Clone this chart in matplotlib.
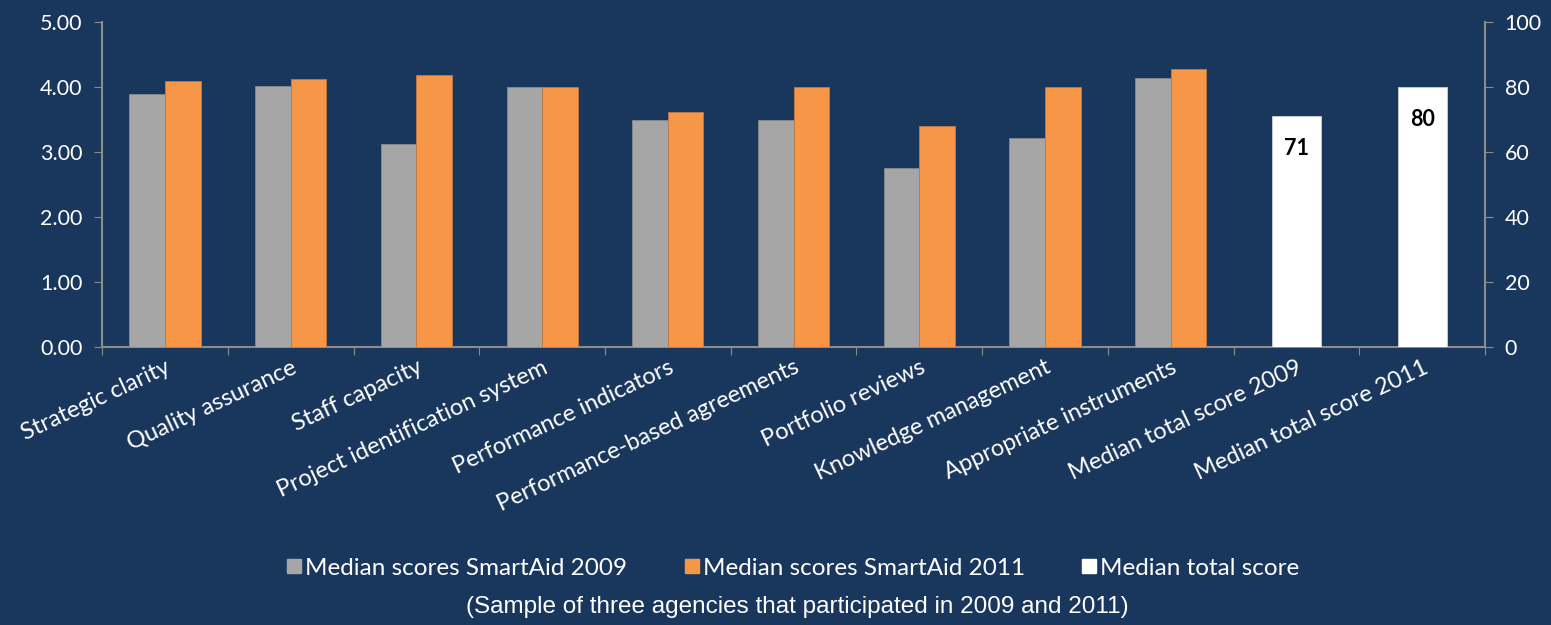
import numpy as np
import matplotlib
matplotlib.use("Agg")
import matplotlib.pyplot as plt
from matplotlib.lines import Line2D

# data
categories = ["Strategic clarity", "Quality assurance", "Staff capacity",
              "Project identification system", "Performance indicators",
              "Performance-based agreements", "Portfolio reviews",
              "Knowledge management", "Appropriate instruments",
              "Median total score 2009", "Median total score 2011"]
scores_2009 = [3.89, 4.01, 3.12, 4.00, 3.49, 3.49, 2.75, 3.22, 4.14]
scores_2011 = [4.10, 4.13, 4.18, 4.00, 3.62, 4.00, 3.40, 4.00, 4.28]
total_scores = [71, 80]

bg = "#19365C"
grey = "#A6A6A6"
orange = "#F79646"
spine_col = "#8C8C8C"
txt = "#FFFFFF"

plt.rcParams["font.family"] = ["Lato", "DejaVu Sans"]

fig = plt.figure(figsize=(15.51, 6.25), dpi=100)
fig.patch.set_facecolor(bg)
ax = fig.add_axes([0.0658, 0.4448, 0.8917, 0.52])
ax.set_facecolor(bg)
ax2 = ax.twinx()

x = np.arange(len(categories))
n = len(scores_2009)
w = 0.283
ax.bar(x[:n] - w / 2, scores_2009, w, color=grey, edgecolor="#8A8A8A", linewidth=0.6, zorder=3)
ax.bar(x[:n] + w / 2, scores_2011, w, color=orange, edgecolor="#C07840", linewidth=0.6, zorder=3)
tb = ax2.bar(x[n:], total_scores, 0.39, color="white", edgecolor="#D0D0D0", linewidth=0.6, zorder=3)
for rect, v in zip(tb, total_scores):
    ax2.text(rect.get_x() + rect.get_width() / 2, v - 10, f"{v}", ha="center", va="center",
             fontsize=15.5, fontweight="bold", color="black", zorder=4)

ax.set_xlim(-0.5, len(categories) - 0.5)
ax.set_ylim(0, 5)
ax2.set_ylim(0, 100)
ax.set_yticks(np.arange(0, 5.01, 1))
ax.set_yticklabels([f"{v:.2f}" for v in np.arange(0, 5.01, 1)])
ax2.set_yticks(np.arange(0, 101, 20))

# ticks at category boundaries, labels at centres
ax.set_xticks(np.arange(-0.5, len(categories)), minor=False)
ax.set_xticklabels([])
ax.set_xticks(x, minor=True)
ax.set_xticklabels(categories, minor=True, rotation=25, ha="right",
                   rotation_mode="anchor", fontsize=17, color=txt)
ax.tick_params(axis="x", which="minor", length=0, pad=7)
ax.tick_params(axis="x", which="major", length=6, color=spine_col, direction="out")
ax.tick_params(axis="y", length=6, color=spine_col, labelsize=15.5, labelcolor=txt, pad=8)
ax2.tick_params(axis="y", length=6, color=spine_col, labelsize=15.5, labelcolor=txt, pad=8)

for a in (ax, ax2):
    for s in a.spines.values():
        s.set_visible(False)
ax.spines["left"].set_visible(True)
ax.spines["bottom"].set_visible(True)
ax2.spines["right"].set_visible(True)
for s in (ax.spines["left"], ax.spines["bottom"], ax2.spines["right"]):
    s.set_color(spine_col)
    s.set_linewidth(1.5)

handles = [Line2D([], [], marker="s", linestyle="none", markersize=10, color=c)
           for c in (grey, orange, "white")]
labels = ["Median scores SmartAid 2009", "Median scores SmartAid 2011", "Median total score"]
fig.legend(handles, labels, loc="center", bbox_to_anchor=(0.511, 0.091), ncol=3,
           frameon=False, fontsize=17.5, labelcolor=txt, handletextpad=0.1,
           columnspacing=2.3, handlelength=0.7)

fig.text(0.514, 0.029, "(Sample of three agencies that participated in 2009 and 2011)",
         ha="center", va="center", fontsize=17.5, color=txt, family="Liberation Sans")

fig.savefig("out.png", facecolor=bg)
